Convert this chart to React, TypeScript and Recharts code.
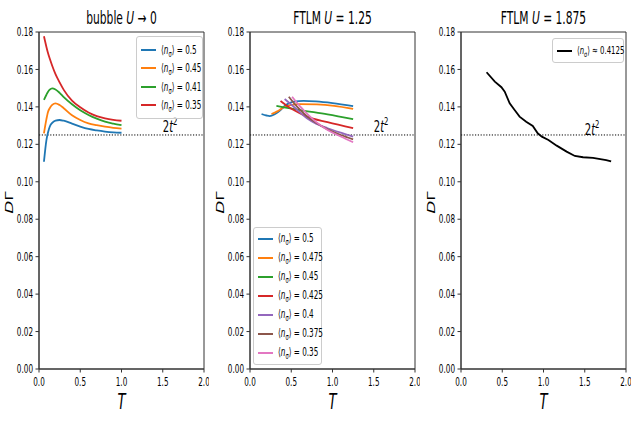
import React from 'react';
import { LineChart, Line, XAxis, YAxis, ReferenceLine, ReferenceArea, ReferenceDot, Legend } from 'recharts';

const FONT = "'DejaVu Sans', sans-serif";
const SX = 0.63;
const LEG_SX = 0.63;

const xTicks = [0, 0.5, 1, 1.5, 2];
const yTicks = [0, 0.02, 0.04, 0.06, 0.08, 0.1, 0.12, 0.14, 0.16, 0.18];
const refLevel = 0.125;

// Panel 1: bubble U -> 0
const bubbleT = [0.06, 0.09, 0.11, 0.13, 0.16, 0.2, 0.25, 0.3, 0.4, 0.5, 0.6, 0.7, 0.8, 0.9, 1.0];
const bubbleN050 = [0.1107, 0.1223, 0.1265, 0.1294, 0.1315, 0.1327, 0.133, 0.1326, 0.1311, 0.1295, 0.1282, 0.1274, 0.1268, 0.1264, 0.1262];
const bubbleN045 = [0.1259, 0.1335, 0.1374, 0.1393, 0.1411, 0.1419, 0.141, 0.1393, 0.1355, 0.133, 0.1312, 0.1302, 0.1294, 0.1288, 0.1284];
const bubbleN041 = [0.1437, 0.1465, 0.1481, 0.1492, 0.1499, 0.1493, 0.1475, 0.1452, 0.1414, 0.1382, 0.1357, 0.1337, 0.1321, 0.1311, 0.1303];
const bubbleN035 = [0.1777, 0.172, 0.1686, 0.1658, 0.162, 0.1575, 0.1531, 0.1491, 0.1434, 0.1398, 0.137, 0.1351, 0.1339, 0.1331, 0.1326];
const bubbleNames = ['0.5', '0.45', '0.41', '0.35'];

// Panel 2: FTLM U = 1.25
const ftlmT050 = [0.14, 0.2, 0.24, 0.3, 0.37, 0.41, 0.47, 0.53, 0.65, 0.8, 1.0, 1.25];
const ftlmV050 = [0.1362, 0.1354, 0.1351, 0.1361, 0.1383, 0.1401, 0.1419, 0.1428, 0.1432, 0.1429, 0.142, 0.1404];
const ftlmT0475 = [0.26, 0.33, 0.41, 0.49, 0.61, 0.81, 1.02, 1.25];
const ftlmV0475 = [0.1362, 0.1376, 0.1398, 0.141, 0.1415, 0.1413, 0.1405, 0.1389];
const ftlmT045 = [0.32, 0.61, 0.94, 1.25];
const ftlmV045 = [0.1406, 0.1383, 0.136, 0.1335];
const ftlmT0425 = [0.37, 0.45, 0.53, 0.69, 0.94, 1.25];
const ftlmV0425 = [0.1431, 0.1405, 0.1383, 0.1348, 0.1318, 0.1286];
const ftlmT040 = [0.42, 0.53, 0.69, 0.8, 0.94, 1.1, 1.25];
const ftlmV040 = [0.1442, 0.1401, 0.1339, 0.131, 0.1286, 0.1262, 0.1241];
const ftlmT0375 = [0.47, 0.57, 0.69, 0.8, 0.94, 1.1, 1.25];
const ftlmV0375 = [0.1454, 0.1401, 0.135, 0.1315, 0.128, 0.125, 0.1227];
const ftlmT035 = [0.51, 0.61, 0.7, 0.8, 0.94, 1.1, 1.25];
const ftlmV035 = [0.1454, 0.1401, 0.136, 0.132, 0.1277, 0.1242, 0.1211];
const ftlmNames = ['0.5', '0.475', '0.45', '0.425', '0.4', '0.375', '0.35'];

// Panel 3: FTLM U = 1.875
const ftlm2T = [0.31, 0.41, 0.49, 0.53, 0.59, 0.65, 0.71, 0.79, 0.87, 0.93, 0.98, 1.06, 1.16, 1.28, 1.38, 1.48, 1.6, 1.76, 1.82];
const ftlm2V = [0.1585, 0.1535, 0.1505, 0.1481, 0.1419, 0.1383, 0.1348, 0.1321, 0.1298, 0.1259, 0.1241, 0.1223, 0.1193, 0.1161, 0.1138, 0.1131, 0.1128, 0.1116, 0.1109];
const ftlm2Names = ['0.4125'];

const colors = ['#1f77b4', '#ff7f0e', '#2ca02c', '#d62728', '#9467bd', '#8c564b', '#e377c2'];

const bubbleData = bubbleT.map((T, i) => ({
  T,
  a: bubbleN050[i],
  b: bubbleN045[i],
  c: bubbleN041[i],
  d: bubbleN035[i],
}));
const zip = (ts: number[], vs: number[]) => ts.map((T, i) => ({ T, v: vs[i] }));
const ftlmValues = [
  zip(ftlmT050, ftlmV050),
  zip(ftlmT0475, ftlmV0475),
  zip(ftlmT045, ftlmV045),
  zip(ftlmT0425, ftlmV0425),
  zip(ftlmT040, ftlmV040),
  zip(ftlmT0375, ftlmV0375),
  zip(ftlmT035, ftlmV035),
];
const ftlm2Data = zip(ftlm2T, ftlm2V);

const W = 209;
const H = 425;
const MARGIN = { top: 32, right: 5, bottom: 0, left: 0 };

function XTick(props: any) {
  const { x, y, payload } = props;
  return (
    <g transform={`translate(${x},${y})`}>
      <text transform={`scale(${SX},1)`} textAnchor="middle" dy="0.71em" fontSize={11.5} fill="#000" fontFamily={FONT}>
        {Number(payload.value).toFixed(1)}
      </text>
    </g>
  );
}

function YTick(props: any) {
  const { x, y, payload } = props;
  return (
    <g transform={`translate(${x},${y})`}>
      <text transform={`scale(${SX},1)`} textAnchor="end" dy="0.36em" fontSize={11.5} fill="#000" fontFamily={FONT}>
        {Number(payload.value).toFixed(2)}
      </text>
    </g>
  );
}

function XLabel(props: any) {
  const vb = props.viewBox || { x: 39, y: 369, width: 165, height: 56 };
  const cx = vb.x + vb.width / 2;
  const by = vb.y + 40;
  return (
    <g transform={`translate(${cx},${by}) scale(${SX},1)`}>
      <text textAnchor="middle" fontSize={21} fontStyle="italic" fill="#000" fontFamily={FONT}>T</text>
    </g>
  );
}

function YLabel(props: any) {
  const vb = props.viewBox || { x: 0, y: 32, width: 39, height: 337 };
  const cx = vb.x + 9;
  const cy = vb.y + vb.height / 2 + 2;
  return (
    <g transform={`translate(${cx},${cy}) scale(${SX},1) rotate(-90)`}>
      <text textAnchor="middle" dy="0.36em" fontSize={17} fill="#000" fontFamily={FONT}>
        <tspan fontStyle="italic">D</tspan>Γ
      </text>
    </g>
  );
}

function TwoT2(props: any) {
  const { cx, cy } = props;
  if (cx == null || cy == null) return <g />;
  return (
    <g transform={`translate(${cx},${cy}) scale(${SX},1)`}>
      <text fontSize={16} fill="#000" fontFamily={FONT}>
        2<tspan fontStyle="italic">t</tspan>
        <tspan fontSize={11} dy={-7}>2</tspan>
      </text>
    </g>
  );
}

function makeLegend(order: string[], op: string, width: number, padTop: number, padBot: number, rowH: number, fontSize: number) {
  return function LegendBox(props: any) {
    const raw: any[] = props.payload || [];
    const items = order
      .map((name) => raw.find((p) => String(p.value) === name))
      .filter(Boolean) as any[];
    return (
      <div
        style={{
          width,
          boxSizing: 'border-box',
          background: 'rgba(255,255,255,0.8)',
          border: '1px solid #cccccc',
          borderRadius: 3,
          paddingTop: padTop,
          paddingBottom: padBot,
          fontFamily: FONT,
        }}
      >
        {items.map((p: any, i: number) => (
          <div key={i} style={{ position: 'relative', height: rowH }}>
            <div
              style={{
                position: 'absolute',
                left: 4,
                width: 15,
                height: 2,
                top: rowH / 2 - 1,
                background: p.color,
              }}
            />
            <div
              style={{
                position: 'absolute',
                left: 24,
                top: 0,
                height: rowH,
                lineHeight: `${rowH}px`,
                whiteSpace: 'nowrap',
                fontSize,
                color: '#000',
                transform: `scaleX(${LEG_SX})`,
                transformOrigin: 'left center',
              }}
            >
              ⟨<i>n</i>
              <span style={{ fontSize: '0.7em', position: 'relative', top: 3 }}>σ</span>⟩ {op} {p.value}
            </div>
          </div>
        ))}
      </div>
    );
  };
}

function axes() {
  return [
    <ReferenceArea key="frame" x1={0} x2={2} y1={0} y2={0.18} fill="none" stroke="#333" strokeWidth={1} />,
    <XAxis
      key="x"
      dataKey="T"
      type="number"
      domain={[0, 2]}
      ticks={xTicks}
      height={56}
      tickSize={3.5}
      tickMargin={5.5}
      stroke="#333"
      tick={<XTick />}
      allowDataOverflow
      label={{ content: <XLabel /> } as any}
    />,
    <YAxis
      key="y"
      type="number"
      domain={[0, 0.18]}
      ticks={yTicks}
      width={39}
      tickSize={3.5}
      tickMargin={2.5}
      stroke="#333"
      tick={<YTick />}
      allowDataOverflow
      label={{ content: <YLabel /> } as any}
    />,
    <ReferenceLine key="ref" y={refLevel} stroke="#000" strokeWidth={1} strokeDasharray="1.2 1.6" />,
  ];
}

function Title({ cx, children }: { cx: number; children: React.ReactNode }) {
  return (
    <g transform={`translate(${cx},24) scale(${SX},1)`}>
      <text textAnchor="middle" fontSize={17} fill="#000" fontFamily={FONT}>
        {children}
      </text>
    </g>
  );
}

export default function App() {
  return (
    <div style={{ position: 'absolute', left: 0, top: 0, width: 638, height: 425, background: '#fff', overflow: 'hidden' }}>
      <div style={{ position: 'absolute', left: 0, top: 0 }}>
        <LineChart width={W} height={H} margin={MARGIN} data={bubbleData}>
          {axes()}
          <Line type="monotone" dataKey="a" name={bubbleNames[0]} stroke={colors[0]} strokeWidth={1.8} dot={false} isAnimationActive={false} />
          <Line type="monotone" dataKey="b" name={bubbleNames[1]} stroke={colors[1]} strokeWidth={1.8} dot={false} isAnimationActive={false} />
          <Line type="monotone" dataKey="c" name={bubbleNames[2]} stroke={colors[2]} strokeWidth={1.8} dot={false} isAnimationActive={false} />
          <Line type="monotone" dataKey="d" name={bubbleNames[3]} stroke={colors[3]} strokeWidth={1.8} dot={false} isAnimationActive={false} />
          <ReferenceDot x={1.5} y={0.1266} r={0} shape={<TwoT2 />} />
          <Legend
            layout="vertical"
            align="center"
            verticalAlign="middle"
            wrapperStyle={{ position: 'absolute', left: 136, top: 36, width: 67, height: 'auto' }}
            content={makeLegend(bubbleNames, '=', 67, 4, 4, 18.3, 11.5)}
          />
        </LineChart>
      </div>
      <div style={{ position: 'absolute', left: 211, top: 0 }}>
        <LineChart width={W} height={H} margin={MARGIN}>
          {axes()}
          {ftlmValues.map((d, i) => (
            <Line
              key={ftlmNames[i]}
              type="monotone"
              data={d}
              dataKey="v"
              name={ftlmNames[i]}
              stroke={colors[i]}
              strokeWidth={1.8}
              dot={false}
              isAnimationActive={false}
            />
          ))}
          <ReferenceDot x={1.5} y={0.1266} r={0} shape={<TwoT2 />} />
          <Legend
            layout="vertical"
            align="center"
            verticalAlign="middle"
            wrapperStyle={{ position: 'absolute', left: 42, top: 227, width: 69, height: 'auto' }}
            content={makeLegend(ftlmNames, '=', 69, 1, 2, 19, 11.5)}
          />
        </LineChart>
      </div>
      <div style={{ position: 'absolute', left: 422, top: 0 }}>
        <LineChart width={W} height={H} margin={MARGIN}>
          {axes()}
          <Line
            type="linear"
            data={ftlm2Data}
            dataKey="v"
            name={ftlm2Names[0]}
            stroke="#000"
            strokeWidth={1.8}
            dot={false}
            isAnimationActive={false}
          />
          <ReferenceDot x={1.5} y={0.125} r={0} shape={<TwoT2 />} />
          <Legend
            layout="vertical"
            align="center"
            verticalAlign="middle"
            wrapperStyle={{ position: 'absolute', left: 130, top: 38, width: 72, height: 'auto' }}
            content={makeLegend(ftlm2Names, '≈', 72, 2, 2, 19, 11)}
          />
        </LineChart>
      </div>
      <svg width={638} height={425} style={{ position: 'absolute', left: 0, top: 0, pointerEvents: 'none' }}>
        <Title cx={121.5}>
          bubble <tspan fontStyle="italic">U</tspan> → 0
        </Title>
        <Title cx={332.5}>
          FTLM <tspan fontStyle="italic">U</tspan> = 1.25
        </Title>
        <Title cx={543.5}>
          FTLM <tspan fontStyle="italic">U</tspan> = 1.875
        </Title>
      </svg>
    </div>
  );
}
